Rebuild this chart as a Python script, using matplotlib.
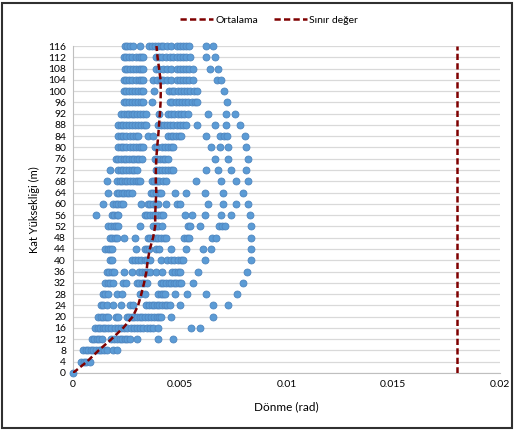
import matplotlib
matplotlib.use("Agg")
import matplotlib.pyplot as plt
from matplotlib.patches import Rectangle

plt.rcParams['font.family'] = ['Lato', 'DejaVu Sans']

# kat yukseklikleri (m)
levels = [0, 4, 8, 12, 16, 20, 24, 28, 32, 36, 40, 44, 48, 52, 56,
          60, 64, 68, 72, 76, 80, 84, 88, 92, 96, 100, 104, 108, 112, 116]

# donme degerleri, her kat icin (x1e-3 rad)
rot_0 = [0.0]
rot_4 = [0.37, 0.5, 0.63, 0.79]
rot_8 = [0.48, 0.6, 0.72, 0.84, 0.96, 1.08, 1.2, 1.32, 1.45, 1.57, 1.88, 2.04]
rot_12 = [0.87, 0.99, 1.11, 1.23, 1.34, 1.8, 1.92, 2.05, 2.18, 2.3, 2.42, 2.55, 2.66,
          3.02, 3.99, 4.69]
rot_16 = [1.03, 1.15, 1.27, 1.39, 1.51, 1.65, 1.8, 1.95, 2.1, 2.25, 2.4, 2.55, 2.7,
          2.85, 3.0, 3.15, 3.3, 3.45, 3.6, 3.75, 3.99, 5.51, 5.93]
rot_20 = [1.18, 1.3, 1.42, 1.54, 1.65, 2.0, 2.1, 2.51, 2.63, 2.75, 2.87, 3.0, 3.12,
          3.25, 3.37, 3.5, 3.65, 3.8, 3.95, 4.05, 4.14, 4.61, 6.56]
rot_24 = [1.3, 1.42, 1.57, 1.88, 2.27, 2.66, 2.81, 3.44, 3.56, 3.68, 3.8, 3.92, 4.05,
          4.17, 4.3, 4.42, 4.53, 5.03, 6.56, 7.26]
rot_28 = [1.39, 1.5, 1.62, 2.04, 2.3, 3.13, 3.36, 3.99, 4.1, 4.2, 4.3, 4.77, 5.36,
          6.25, 7.7]
rot_32 = [1.5, 1.62, 1.75, 1.88, 2.35, 2.5, 2.98, 3.1, 3.22, 3.34, 3.45, 4.11, 4.23,
          4.35, 4.48, 4.6, 4.72, 4.84, 4.96, 5.08, 5.62, 7.96]
rot_36 = [1.57, 1.69, 1.81, 1.93, 2.38, 2.74, 3.1, 3.22, 3.35, 3.47, 3.6, 3.88, 4.17,
          4.65, 4.77, 4.9, 5.0, 5.86, 8.16]
rot_40 = [1.72, 1.84, 2.75, 2.9, 3.05, 3.2, 3.35, 3.47, 3.6, 4.14, 4.4, 4.6, 4.75,
          4.9, 5.05, 5.15, 6.17, 8.35]
rot_44 = [1.5, 1.62, 1.72, 1.81, 2.94, 3.35, 3.47, 3.58, 3.9, 4.02, 4.61, 5.31, 6.09,
          6.48, 8.35]
rot_48 = [1.72, 1.84, 1.96, 2.05, 2.38, 2.9, 3.5, 3.62, 3.75, 3.88, 4.0, 4.12, 4.25,
          4.37, 5.2, 5.32, 5.42, 6.52, 6.68, 8.35]
rot_52 = [1.65, 1.77, 1.9, 2.02, 2.12, 3.15, 3.75, 3.88, 4.0, 4.15, 5.38, 5.5, 5.93,
          6.85, 7.0, 7.1, 8.35]
rot_56 = [1.1, 1.81, 1.93, 2.05, 2.12, 3.36, 3.48, 3.6, 3.73, 3.86, 3.99, 4.1, 4.22,
          5.23, 5.55, 6.17, 6.95, 7.41, 8.3]
rot_60 = [1.42, 1.89, 2.01, 2.13, 2.25, 2.35, 3.2, 3.5, 3.62, 3.75, 3.88, 4.0, 4.35,
          4.85, 5.0, 6.32, 7.03, 7.65, 8.19]
rot_64 = [1.65, 2.04, 2.16, 2.28, 2.4, 2.52, 2.64, 2.74, 3.63, 3.76, 3.89, 4.02, 4.14,
          4.77, 5.28, 6.17, 7.03, 7.96]
rot_68 = [1.57, 2.07, 2.19, 2.31, 2.43, 2.55, 2.68, 2.8, 2.93, 3.05, 3.13, 3.68, 3.8,
          3.93, 4.05, 4.2, 4.35, 5.78, 6.95, 7.65, 8.19]
rot_72 = [1.73, 2.12, 2.24, 2.36, 2.5, 2.62, 2.75, 2.87, 2.98, 3.91, 4.03, 4.15, 4.3,
          4.45, 4.57, 4.69, 6.21, 6.79, 7.41, 8.12]
rot_76 = [2.01, 2.13, 2.25, 2.37, 2.5, 2.62, 2.75, 2.87, 3.0, 3.1, 3.21, 3.83, 3.95,
          4.07, 4.2, 4.33, 4.45, 6.64, 7.26, 8.19]
rot_80 = [2.12, 2.24, 2.36, 2.5, 2.65, 2.8, 2.95, 3.1, 3.2, 3.29, 3.83, 3.95, 4.15,
          4.3, 4.45, 4.58, 4.69, 6.48, 6.87, 7.26, 8.12]
rot_84 = [2.12, 2.24, 2.36, 2.5, 2.65, 2.8, 2.95, 3.05, 3.52, 3.75, 4.45, 4.57, 4.7,
          4.83, 4.95, 5.08, 6.21, 6.9, 7.05, 7.2, 8.04]
rot_88 = [2.12, 2.24, 2.36, 2.48, 2.6, 2.75, 2.9, 3.05, 3.2, 3.32, 3.44, 3.99, 4.12,
          4.25, 4.4, 4.55, 4.7, 4.85, 5.0, 5.15, 5.31, 5.81, 6.64, 7.18, 7.8]
rot_92 = [2.27, 2.39, 2.51, 2.63, 2.75, 2.87, 3.0, 3.15, 3.3, 3.44, 4.03, 4.45, 4.6,
          4.75, 4.9, 5.05, 5.2, 5.39, 6.32, 7.15, 7.57]
rot_96 = [2.38, 2.5, 2.62, 2.75, 2.9, 3.05, 3.2, 3.29, 3.68, 4.53, 4.65, 4.8, 4.95,
          5.1, 5.25, 5.4, 5.55, 5.7, 5.8, 7.23]
rot_100 = [2.38, 2.5, 2.62, 2.75, 2.9, 3.05, 3.2, 3.29, 3.8, 4.5, 4.62, 4.75, 4.9,
           5.05, 5.2, 5.35, 5.5, 5.65, 5.8, 7.06]
rot_104 = [2.38, 2.5, 2.62, 2.75, 2.95, 3.07, 3.19, 3.29, 3.75, 3.95, 4.1, 4.22, 4.4,
           4.6, 4.85, 5.0, 5.15, 5.3, 5.45, 5.6, 6.75, 6.95]
rot_108 = [2.43, 2.55, 2.67, 2.8, 2.95, 3.07, 3.19, 3.29, 3.91, 4.05, 4.2, 4.4, 4.6,
           4.85, 5.0, 5.15, 5.3, 5.45, 5.6, 6.4, 6.79]
rot_112 = [2.38, 2.5, 2.62, 2.75, 2.95, 3.07, 3.19, 3.29, 3.91, 4.03, 4.15, 4.35, 4.55,
           4.67, 4.85, 5.0, 5.15, 5.3, 5.47, 6.21, 6.63]
rot_116 = [2.43, 2.55, 2.67, 2.79, 3.16, 3.57, 3.7, 3.83, 3.96, 4.1, 4.22, 4.4, 4.6,
           4.85, 5.0, 5.15, 5.3, 5.44, 6.21, 6.56]

rotations = [rot_0, rot_4, rot_8, rot_12, rot_16, rot_20, rot_24, rot_28, rot_32,
             rot_36, rot_40, rot_44, rot_48, rot_52, rot_56, rot_60, rot_64, rot_68,
             rot_72, rot_76, rot_80, rot_84, rot_88, rot_92, rot_96, rot_100, rot_104,
             rot_108, rot_112, rot_116]

# ortalama (x1e-3 rad)
mean_rot = [0.0, 0.65, 1.2, 1.8, 2.35, 2.8, 3.05, 3.2, 3.33, 3.44, 3.5, 3.6, 3.75,
            3.85, 3.85, 3.87, 3.9, 3.88, 3.88, 3.9, 3.94, 3.99, 4.03, 4.07, 4.1,
            4.11, 4.1, 4.03, 3.96, 3.91]

limit_rot = 0.018
xticks = [0, 0.005, 0.01, 0.015, 0.02]
xtick_labels = ['0', '0.005', '0.01', '0.015', '0.02']

fig = plt.figure(figsize=(5.14, 4.30), dpi=100)
ax = fig.add_axes([0.142, 0.1326, 0.831, 0.7604])

dark_red = '#7F0000'

for lvl, vals in zip(levels, rotations):
    ax.scatter([v * 1e-3 for v in vals], [lvl] * len(vals), s=25,
               c='#5B9BD5', edgecolors='#4F86C0', linewidths=0.6,
               zorder=3, clip_on=False)

ax.plot([m * 1e-3 for m in mean_rot], levels, color=dark_red, lw=1.8,
        dashes=(2.5, 1.3), zorder=4, label='Ortalama')
ax.plot([limit_rot, limit_rot], [0, 116], color=dark_red, lw=1.8,
        dashes=(2.5, 1.3), zorder=4, label='Sınır değer')

ax.set_xlim(0, 0.02)
ax.set_ylim(0, 116)
ax.set_yticks(levels)
ax.set_xticks(xticks)
ax.set_xticklabels(xtick_labels)
ax.tick_params(length=0, labelsize=7.5, pad=5)
ax.grid(axis='y', color='#D9D9D9', lw=0.9)
ax.set_axisbelow(True)
for s in ['top', 'right']:
    ax.spines[s].set_visible(False)
ax.spines['left'].set_color('#BFBFBF')
ax.spines['bottom'].set_color('#BFBFBF')

ax.set_xlabel('Dönme (rad)', fontsize=8.5, labelpad=9)
ax.set_ylabel('Kat Yüksekliği (m)', fontsize=8, labelpad=6)

fig.legend(loc='center', bbox_to_anchor=(0.523, 0.953), ncol=2, frameon=False,
           fontsize=7.5, handlelength=3.2, columnspacing=1.5, handletextpad=0.2)

fig.patches.append(Rectangle((0.003, 0.004), 0.994, 0.99, transform=fig.transFigure,
                             fill=False, edgecolor='#303030', lw=1.5))

fig.savefig('out.png', dpi=100)
